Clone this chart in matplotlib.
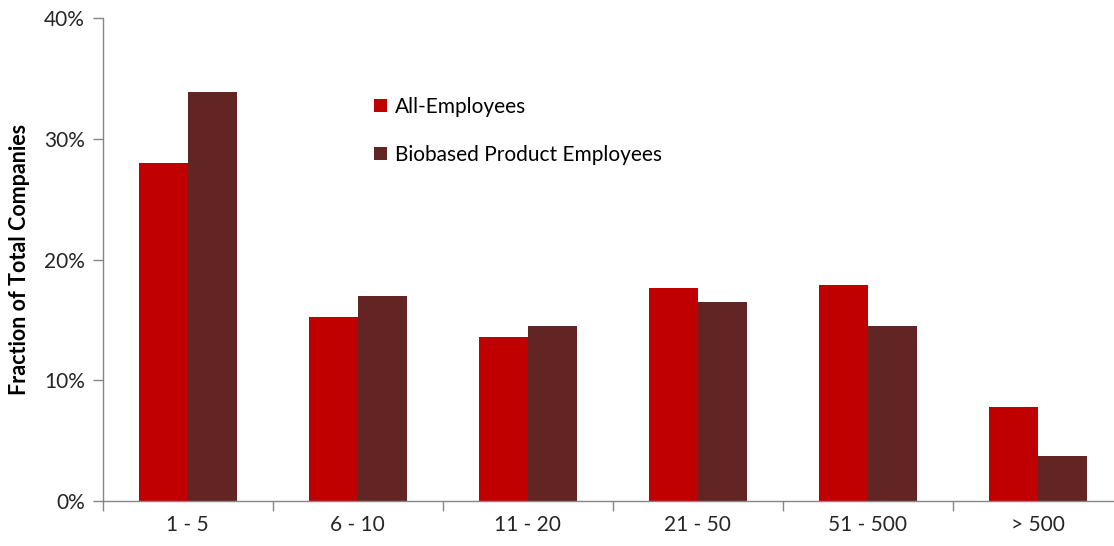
import matplotlib
matplotlib.use("Agg")
import matplotlib.pyplot as plt
import numpy as np

plt.rcParams['font.family'] = ['Lato', 'DejaVu Sans']

categories = ["1 - 5", "6 - 10", "11 - 20", "21 - 50", "51 - 500", "> 500"]
all_employees = [28.0, 15.2, 13.6, 17.6, 17.9, 7.8]
biobased = [33.9, 17.0, 14.5, 16.5, 14.5, 3.7]

red = "#C00000"
maroon = "#632523"
axis_grey = "#868686"

fig = plt.figure(figsize=(11.14, 5.46), dpi=100)
ax = fig.add_axes([0.0922, 0.0824, 0.9156, 0.8846])

x = np.arange(len(categories))
w = 0.288
ax.bar(x - w / 2, all_employees, w, color=red, label="All-Employees")
ax.bar(x + w / 2, biobased, w, color=maroon, label="Biobased Product Employees")

ax.set_xlim(-0.5, len(categories) - 0.5)
ax.set_ylim(0, 40)

# category boundary ticks, labels sit in between
ax.set_xticks(np.arange(-0.5, len(categories), 1.0))
ax.set_xticklabels([])
ax.set_xticks(x, minor=True)
ax.set_xticklabels(categories, minor=True, fontsize=15, color="#262626")
ax.tick_params(axis="x", which="major", direction="out", length=7, width=1, color=axis_grey)
ax.tick_params(axis="x", which="minor", length=0, pad=10)

ax.set_yticks([0, 10, 20, 30, 40])
ax.set_yticklabels(["0%", "10%", "20%", "30%", "40%"], fontsize=15, color="#262626")
ax.tick_params(axis="y", direction="out", length=7, width=1, color=axis_grey, pad=6)

ax.set_ylabel("Fraction of Total Companies", fontsize=15.5, fontweight="bold", labelpad=10)

for side in ["top", "right"]:
    ax.spines[side].set_visible(False)
for side in ["left", "bottom"]:
    ax.spines[side].set_color(axis_grey)
    ax.spines[side].set_linewidth(1)

ax.legend(loc="upper left", bbox_to_anchor=(0.248, 0.876), frameon=False, fontsize=15,
          handlelength=0.6, handleheight=0.6, handletextpad=0.4, labelspacing=1.35)

fig.savefig("out.png", dpi=100)
